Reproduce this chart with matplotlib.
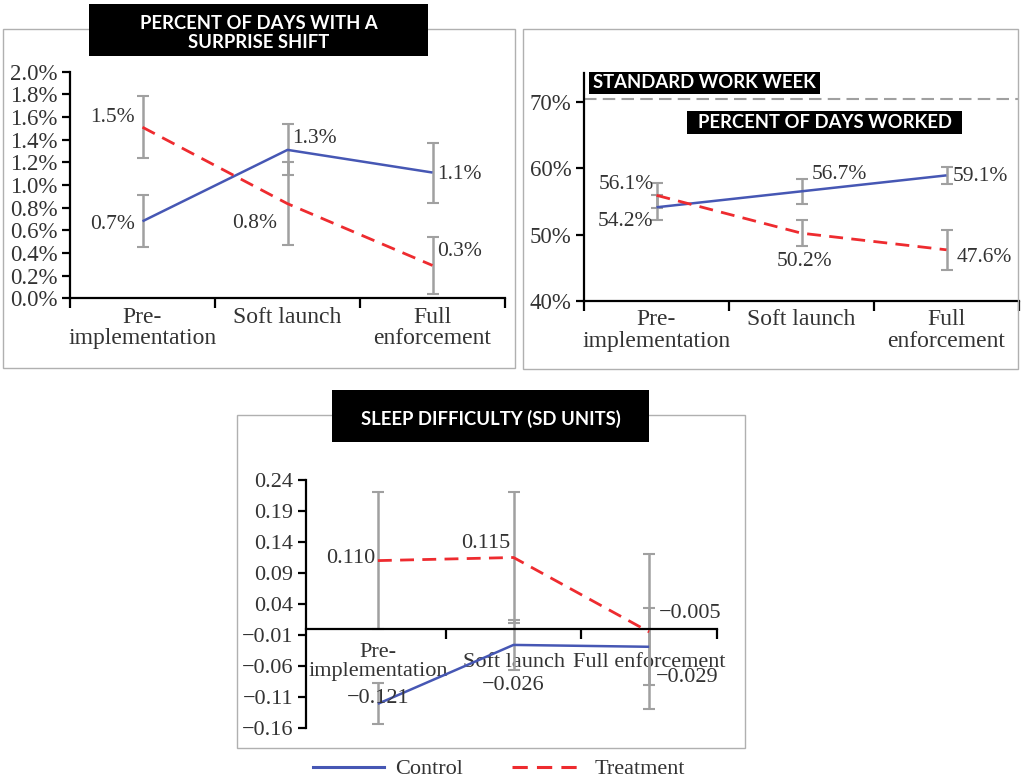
import matplotlib
matplotlib.use("Agg")
import matplotlib.pyplot as plt
import numpy as np
from matplotlib.patches import Rectangle
from matplotlib.lines import Line2D
from matplotlib.ticker import FuncFormatter

W, H = 1021, 780
BLUE = "#4657B4"
RED = "#EE2B2F"
GREY = "#A0A0A0"

plt.rcParams["font.family"] = ["Liberation Serif", "DejaVu Serif"]
plt.rcParams["text.color"] = "#333333"
plt.rcParams["xtick.color"] = "black"
plt.rcParams["ytick.color"] = "black"
plt.rcParams["xtick.labelcolor"] = "#333333"
plt.rcParams["ytick.labelcolor"] = "#333333"

stages = ["Pre-\nimplementation", "Soft launch", "Full\nenforcement"]
stages_sleep = ["Pre-\nimplementation", "Soft launch", "Full enforcement"]

# percent of days with a surprise shift (%)
shift_control = [0.68, 1.31, 1.11]
shift_control_err = [0.23, 0.225, 0.265]
shift_treat = [1.51, 0.835, 0.29]
shift_treat_err = [0.275, 0.365, 0.25]
shift_control_lbl = ["0.7%", "1.3%", "1.1%"]
shift_treat_lbl = ["1.5%", "0.8%", "0.3%"]

# percent of days worked (%)
days_control = [54.1, 56.5, 58.9]
days_control_err = [1.9, 1.85, 1.3]
days_treat = [55.9, 50.2, 47.7]
days_treat_err = [1.9, 2.0, 3.0]
days_control_lbl = ["54.2%", "56.7%", "59.1%"]
days_treat_lbl = ["56.1%", "50.2%", "47.6%"]
standard_week = 70.4

# sleep difficulty (SD units)
sleep_control = [-0.121, -0.026, -0.029]
sleep_control_err = [0.033, 0.04, 0.062]
sleep_treat = [0.110, 0.115, -0.005]
sleep_treat_err = [0.11, 0.105, 0.125]
sleep_control_lbl = ["\u22120.121", "\u22120.026", "\u22120.029"]
sleep_treat_lbl = ["0.110", "0.115", "\u22120.005"]

x = np.arange(3)


def rect(x0, y0, x1, y1):
    # pixel box -> figure fraction rect
    return [x0 / W, 1 - y1 / H, (x1 - x0) / W, (y1 - y0) / H]


def panel_box(fig, x0, y0, x1, y1):
    fig.patches.append(Rectangle((x0 / W, 1 - y1 / H), (x1 - x0) / W, (y1 - y0) / H,
                                 transform=fig.transFigure, fill=False,
                                 edgecolor="#B0B0B0", lw=1, zorder=0))


def title_box(fig, x0, y0, x1, y1, text, size=13.3, ty=None):
    fig.patches.append(Rectangle((x0 / W, 1 - y1 / H), (x1 - x0) / W, (y1 - y0) / H,
                                 transform=fig.transFigure, facecolor="black",
                                 edgecolor="none", zorder=5))
    ty = (y0 + y1) / 2 if ty is None else ty
    fig.text((x0 + x1) / 2 / W, 1 - ty / H, text, color="white",
             family="Lato", weight="bold", fontsize=size, ha="center", va="center",
             linespacing=1.2, zorder=6)


def style_axes(ax, labels, fs=17, pad=6, va="top", edges=(-0.5, 0.5, 1.5, 2.5)):
    ax.set_xlim(-0.5, 2.5)
    for s in ["top", "right"]:
        ax.spines[s].set_visible(False)
    for s in ["left", "bottom"]:
        ax.spines[s].set_linewidth(1.6)
    ax.set_xticks(list(edges))
    ax.set_xticklabels([])
    ax.set_xticks(x, minor=True)
    ax.set_xticklabels(labels, minor=True, fontsize=fs, va=va, linespacing=1.05)
    ax.tick_params(axis="x", which="major", length=7, width=1.6, direction="out")
    ax.tick_params(axis="x", which="minor", length=0, pad=pad)
    ax.tick_params(axis="y", length=6, width=1.6, labelsize=16.5, pad=3)
    ax.patch.set_alpha(0)


def draw_series(ax, yc, ec, yt, et):
    ax.errorbar(x, yc, yerr=ec, fmt="none", ecolor=GREY, elinewidth=1.8, capsize=4, capthick=1.5, zorder=2)
    ax.errorbar(x, yt, yerr=et, fmt="none", ecolor=GREY, elinewidth=1.8, capsize=4, capthick=1.5, zorder=2)
    ax.plot(x, yc, color=BLUE, lw=1.8, zorder=3, solid_capstyle="butt")
    ax.plot(x, yt, color=RED, lw=2.0, dashes=(5, 3), zorder=3)


fig = plt.figure(figsize=(W / 100, H / 100), dpi=100)
fs = 15.5

# ---- panel 1: surprise shift
panel_box(fig, 3, 29, 515, 368)
ax1 = fig.add_axes(rect(70, 71.7, 505, 298.3))
style_axes(ax1, stages)
draw_series(ax1, shift_control, shift_control_err, shift_treat, shift_treat_err)
ax1.set_ylim(0, 2.0)
ax1.set_yticks(np.arange(0, 2.01, 0.2))
ax1.yaxis.set_major_formatter(FuncFormatter(lambda v, p: f"{v:.1f}%"))
ax1.text(-0.05, 1.60, shift_treat_lbl[0], ha="right", va="center", fontsize=fs)
ax1.text(-0.05, 0.65, shift_control_lbl[0], ha="right", va="center", fontsize=fs)
ax1.text(1.035, 1.41, shift_control_lbl[1], ha="left", va="center", fontsize=fs)
ax1.text(0.93, 0.66, shift_treat_lbl[1], ha="right", va="center", fontsize=fs)
ax1.text(2.035, 1.09, shift_control_lbl[2], ha="left", va="center", fontsize=fs)
ax1.text(2.035, 0.41, shift_treat_lbl[2], ha="left", va="center", fontsize=fs)
title_box(fig, 89, 4, 428, 56, "PERCENT OF DAYS WITH A\nSURPRISE SHIFT", ty=33)

# ---- panel 2: days worked
panel_box(fig, 523, 29, 1018, 369)
ax2 = fig.add_axes(rect(584, 73, 1019, 301))
style_axes(ax2, stages)
draw_series(ax2, days_control, days_control_err, days_treat, days_treat_err)
ax2.set_ylim(40, 74.3)
ax2.set_yticks([40, 50, 60, 70])
ax2.yaxis.set_major_formatter(FuncFormatter(lambda v, p: f"{v:.0f}%"))
ax2.axhline(standard_week, color=GREY, lw=1.5, dashes=(6, 3), zorder=1, clip_on=False)
ax2.text(-0.02, 57.5, days_treat_lbl[0], ha="right", va="center", fontsize=fs)
ax2.text(-0.02, 52.0, days_control_lbl[0], ha="right", va="center", fontsize=fs)
ax2.text(1.07, 59.0, days_control_lbl[1], ha="left", va="center", fontsize=fs)
ax2.text(1.02, 45.9, days_treat_lbl[1], ha="center", va="center", fontsize=fs)
ax2.text(2.04, 58.8, days_control_lbl[2], ha="left", va="center", fontsize=fs)
ax2.text(2.07, 46.6, days_treat_lbl[2], ha="left", va="center", fontsize=fs)
title_box(fig, 589, 72, 820, 94, "STANDARD WORK WEEK")
title_box(fig, 687, 111, 962, 134, "PERCENT OF DAYS WORKED")

# ---- panel 3: sleep difficulty
panel_box(fig, 237, 415, 745, 748)
ax3 = fig.add_axes(rect(306, 480, 717, 728))
ax3.spines["bottom"].set_position(("data", 0))
style_axes(ax3, stages_sleep, fs=16, pad=24, va="center", edges=(0.5, 1.5, 2.5))
ax3.set_xlim(-0.53, 2.5)
draw_series(ax3, sleep_control, sleep_control_err, sleep_treat, sleep_treat_err)
ax3.set_ylim(-0.16, 0.24)
ax3.set_yticks(np.round(np.arange(-0.16, 0.241, 0.05), 2))
ax3.yaxis.set_major_formatter(FuncFormatter(lambda v, p: f"{v:.2f}".replace("-", "\u2212")))
ax3.tick_params(axis="y", labelsize=16)
ax3.text(-0.02, 0.114, sleep_treat_lbl[0], ha="right", va="center", fontsize=16)
ax3.text(0.98, 0.138, sleep_treat_lbl[1], ha="right", va="center", fontsize=16)
ax3.text(2.07, 0.024, sleep_treat_lbl[2], ha="left", va="center", fontsize=16)
ax3.text(0.0, -0.113, sleep_control_lbl[0], ha="center", va="center", fontsize=16)
ax3.text(1.0, -0.092, sleep_control_lbl[1], ha="center", va="center", fontsize=16)
ax3.text(2.05, -0.079, sleep_control_lbl[2], ha="left", va="center", fontsize=16)
title_box(fig, 332, 390, 649, 442, "SLEEP DIFFICULTY (SD UNITS)", ty=419)

handles = [Line2D([], [], color=BLUE, lw=2.2),
           Line2D([], [], color=RED, lw=2.2, dashes=(5, 3))]
fig.legend(handles, ["Control", "Treatment"], loc="center", bbox_to_anchor=(499 / W, 1 - 769 / H),
           ncol=2, frameon=False, fontsize=16, handlelength=3.2, columnspacing=2.2,
           handletextpad=0.5)

fig.savefig("out.png", dpi=100)
